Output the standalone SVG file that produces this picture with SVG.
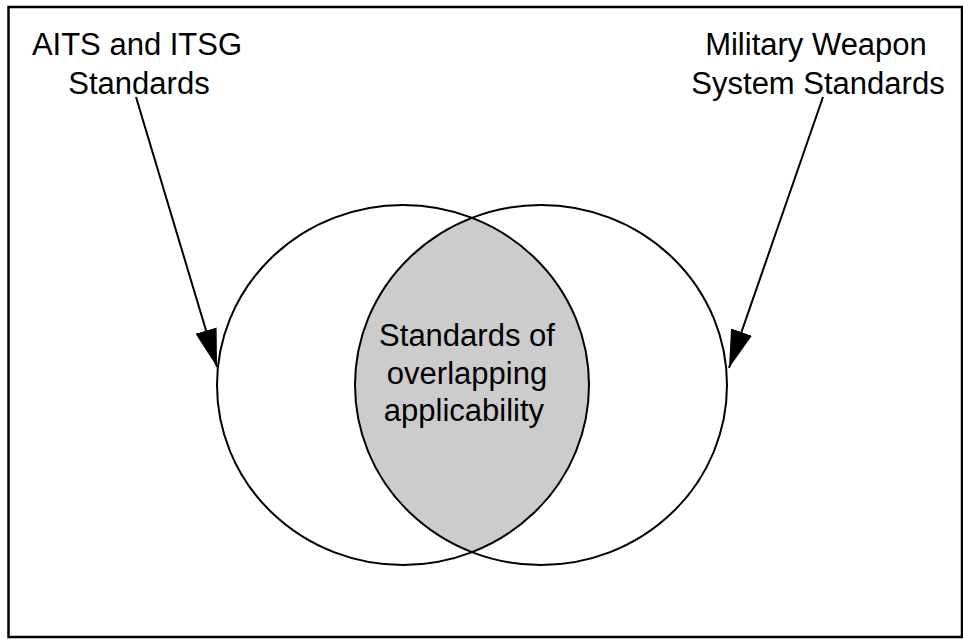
<svg xmlns="http://www.w3.org/2000/svg" width="963" height="639" viewBox="0 0 963 639">
<style>
.lbl{font-family:"Liberation Sans",Arial,sans-serif;font-size:31px;fill:#000;text-anchor:middle}
.ring{fill:none;stroke:#000;stroke-width:2}
.conn{stroke:#000;stroke-width:2;fill:none}
</style>
<defs>
<marker id="ah" markerUnits="userSpaceOnUse" markerWidth="40" markerHeight="26" viewBox="0 0 40 26" refX="38" refY="13" orient="auto">
<path d="M0,2 L38,13 L0,24 Z" fill="#000"/>
</marker>
</defs>
<rect x="8.5" y="7" width="953.5" height="630" fill="#fff" stroke="#000" stroke-width="2.5"/>
<g id="overlap">
<path d="M472,218 A186,180 0 0,0 472,552 A186,180 0 0,0 472,218 Z" fill="#cccccc"/>
<text class="lbl" x="467" y="346">Standards of</text>
<text class="lbl" x="467" y="384">overlapping</text>
<text class="lbl" x="464" y="421">applicability</text>
</g>
<g id="aits">
<ellipse class="ring" cx="403" cy="385" rx="186" ry="180"/>
<text class="lbl" x="137" y="55">AITS and ITSG</text>
<text class="lbl" x="139" y="94">Standards</text>
</g>
<g id="military">
<ellipse class="ring" cx="541" cy="385" rx="186" ry="180"/>
<text class="lbl" x="816" y="55">Military Weapon</text>
<text class="lbl" x="818" y="94">System Standards</text>
</g>
<g id="connectors">
<line class="conn" x1="136" y1="97" x2="217" y2="367" marker-end="url(#ah)"/>
<line class="conn" x1="823" y1="97" x2="729" y2="368" marker-end="url(#ah)"/>
</g>
</svg>
